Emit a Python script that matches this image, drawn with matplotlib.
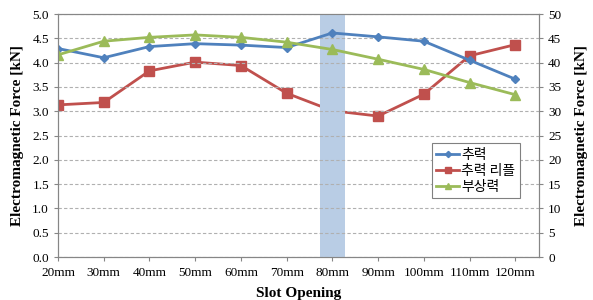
import matplotlib
matplotlib.use("Agg")
import matplotlib.pyplot as plt

# slot opening categories
slots = ["20mm", "30mm", "40mm", "50mm", "60mm", "70mm",
         "80mm", "90mm", "100mm", "110mm", "120mm"]

# values
thrust = [4.29, 4.10, 4.33, 4.39, 4.36, 4.31, 4.61, 4.53, 4.44, 4.05, 3.66]
ripple = [31.3, 31.8, 38.3, 40.1, 39.4, 33.7, 30.1, 29.0, 33.5, 41.4, 43.7]
levitation = [4.16, 4.44, 4.52, 4.57, 4.52, 4.42, 4.27, 4.07, 3.86, 3.59, 3.34]

highlight = "80mm"

serif = "Liberation Serif"
kfont = ["Noto Sans CJK KR", "DejaVu Sans"]
spine_col = "#868686"

fig = plt.figure(figsize=(5.93, 3.0), dpi=100)
ax = fig.add_axes([0.0978, 0.1433, 0.8112, 0.81])
ax2 = ax.twinx()

x = list(range(len(slots)))
hx = slots.index(highlight)
ax.axvspan(hx - 0.28, hx + 0.27, color="#B9CDE5", zorder=0, lw=0)

l1, = ax.plot(x, thrust, color="#4F81BD", marker="D", ms=4.5, lw=2, label="추력")
l2, = ax2.plot(x, ripple, color="#C0504D", marker="s", ms=6.5, lw=2, label="추력 리플")
l3, = ax.plot(x, levitation, color="#9BBB59", marker="^", ms=7, lw=2, label="부상력")

ax.set_xlim(0, 10.52)
ax.set_ylim(0, 5)
ax2.set_ylim(0, 50)
ax.set_yticks([i * 0.5 for i in range(11)])
ax.set_yticklabels([f"{i * 0.5:.1f}" for i in range(11)])
ax2.set_yticks(range(0, 51, 5))
ax.set_xticks(x)
ax.set_xticklabels(slots)

ax.yaxis.grid(True, ls=(0, (3, 2)), color="#B0B0B0", lw=0.8)
ax.set_axisbelow(True)

for a in (ax, ax2):
    for s in a.spines.values():
        s.set_color(spine_col)
    a.tick_params(colors=spine_col, labelcolor="black", length=3, labelsize=9.5)
    for t in a.get_xticklabels() + a.get_yticklabels():
        t.set_family(serif)
ax.tick_params(axis="x", pad=4)

ax.set_xlabel("Slot Opening", family=serif, fontsize=11, fontweight="bold", labelpad=6)
ax.set_ylabel("Electromagnetic Force [kN]", family=serif, fontsize=11, fontweight="bold", labelpad=6)
ax2.set_ylabel("Electromagnetic Force [kN]", family=serif, fontsize=11, fontweight="bold", labelpad=10)

leg = ax.legend(handles=[l1, l2, l3], loc="lower left", bbox_to_anchor=(0.778, 0.243),
                prop={"family": kfont, "size": 10}, fancybox=False, framealpha=1,
                edgecolor="#808080", handlelength=1.6, borderpad=0.3, labelspacing=0.15,
                handletextpad=0.2, markerscale=0.7, borderaxespad=0)
leg.get_frame().set_linewidth(0.8)
leg._legend_box.align = "left"
leg.set_zorder(5)
ax.set_zorder(ax2.get_zorder() + 1)
ax.patch.set_visible(False)

fig.savefig("out.png", dpi=100)
